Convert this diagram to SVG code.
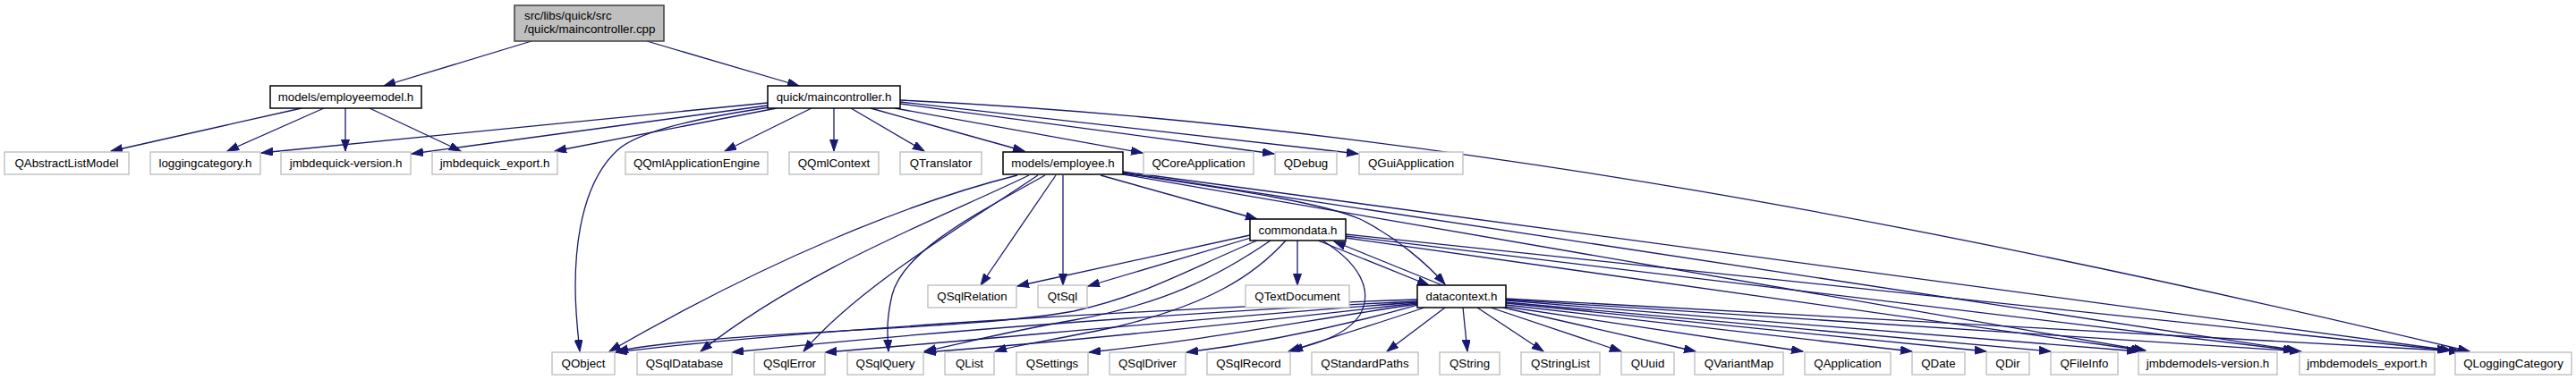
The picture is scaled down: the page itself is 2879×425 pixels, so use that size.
<svg xmlns="http://www.w3.org/2000/svg" width="2879" height="425" viewBox="0 0 2879 425">
<defs>
<style>
text{font-family:"Liberation Sans",Arial,Helvetica,sans-serif;font-size:13.3px;fill:#000;text-anchor:middle}
.ext rect{fill:#fff;stroke:#bfbfbf;stroke-width:1.4}
.int rect{fill:#fff;stroke:#000;stroke-width:1.5}
.root rect{fill:#bfbfbf;stroke:#404040;stroke-width:1.5}
.root text{text-anchor:start}
#edges path{fill:none;stroke:#191970;stroke-width:1.3;marker-end:url(#arr)}
</style>
<marker id="arr" markerWidth="14" markerHeight="10" refX="13" refY="4.5" orient="auto" markerUnits="userSpaceOnUse"><path d="M0,0 L13,4.5 L0,9 z" fill="#191970" stroke="#191970" stroke-width="1"/></marker>
</defs>
<rect width="2879" height="425" fill="#fff"/>
<g id="edges">
<path d="M594,46 L429,96"/>
<path d="M723,46 L893,96"/>
<path d="M337,121 L124,169"/>
<path d="M362,121 L254,169"/>
<path d="M386,121 L386,169"/>
<path d="M413,121 L515,169"/>
<path d="M858,115 L292,171"/>
<path d="M858,118 L460,172"/>
<path d="M868,121 L620,169"/>
<path d="M860,120 C760,135 710,150 690,168 C655,200 643,260 643,320 C643,350 646,375 648,393"/>
<path d="M907,121 L810,169"/>
<path d="M932,121 L932,169"/>
<path d="M951,121 L1033,169"/>
<path d="M973,121 L1145,169"/>
<path d="M1000,121 L1277,171"/>
<path d="M1006,116 L1424,172"/>
<path d="M1006,114 L1518,172"/>
<path d="M1006,112 C1600,140 2200,260 2760,393"/>
<path d="M1137,196 C1020,225 860,290 681,393"/>
<path d="M1150,196 C1060,240 900,300 783,393"/>
<path d="M1160,196 C1080,250 960,320 898,393"/>
<path d="M1168,196 C1090,240 1010,280 997,330 C990,360 992,375 993,393"/>
<path d="M1180,196 L1096,319"/>
<path d="M1188,196 L1188,319"/>
<path d="M1230,196 L1405,245"/>
<path d="M1255,194 C1400,215 1480,228 1520,245 C1560,265 1595,295 1615,318"/>
<path d="M1255,192 L2740,392"/>
<path d="M1255,193 L2568,392"/>
<path d="M1255,195 L2398,392"/>
<path d="M1397,263 L1137,320"/>
<path d="M1398,266 L1216,320"/>
<path d="M1405,269 C1320,305 1280,330 1200,348 C1080,370 800,370 689,393"/>
<path d="M1420,269 C1360,310 1300,340 1200,358 C1120,372 1080,383 1033,393"/>
<path d="M1437,269 C1400,310 1350,340 1250,365 C1180,380 1140,385 1112,393"/>
<path d="M1478,269 C1520,295 1535,325 1520,352 C1505,375 1470,385 1443,392"/>
<path d="M1450,269 L1450,319"/>
<path d="M1473,269 L1597,319"/>
<path d="M1504,262 L2737,392"/>
<path d="M1504,264 L2565,392"/>
<path d="M1504,266 L2395,392"/>
<path d="M1612,319 L1491,270"/>
<path d="M1584,335 C1300,345 900,368 688,394"/>
<path d="M1584,337 C1300,350 1000,375 818,394"/>
<path d="M1584,338 C1350,355 1100,380 922,394"/>
<path d="M1584,339 C1400,360 1200,382 1033,394"/>
<path d="M1584,340 C1450,360 1350,380 1217,394"/>
<path d="M1584,341 C1500,365 1420,382 1326,394"/>
<path d="M1592,344 C1530,365 1480,380 1440,393"/>
<path d="M1615,344 L1550,393"/>
<path d="M1635,344 L1640,393"/>
<path d="M1651,344 L1725,393"/>
<path d="M1666,344 L1812,393"/>
<path d="M1680,344 L1895,393"/>
<path d="M1683,343 L2015,393"/>
<path d="M1683,341 L2137,393"/>
<path d="M1683,339 L2220,393"/>
<path d="M1683,338 L2292,393"/>
<path d="M1683,336 L2390,393"/>
<path d="M1683,335 L2572,393"/>
<path d="M1683,334 L2750,393"/>
</g>
<g id="n_root" class="root"><rect x="575" y="6" width="167" height="40"/><text x="586" y="21.5">src/libs/quick/src</text><text x="586" y="36.5">/quick/maincontroller.cpp</text></g>
<g id="n_employeemodel" class="int"><rect x="302" y="96" width="169" height="25"/><text x="386.5" y="113">models/employeemodel.h</text></g>
<g id="n_maincontroller_h" class="int"><rect x="858" y="96" width="148" height="25"/><text x="932" y="113">quick/maincontroller.h</text></g>
<g id="n_QAbstractListModel" class="ext"><rect x="5" y="170" width="139" height="25"/><text x="74.5" y="187">QAbstractListModel</text></g>
<g id="n_loggingcategory" class="ext"><rect x="168" y="170" width="123" height="25"/><text x="229.5" y="187">loggingcategory.h</text></g>
<g id="n_jmbdequick_version" class="ext"><rect x="314" y="170" width="145" height="25"/><text x="386.5" y="187">jmbdequick-version.h</text></g>
<g id="n_jmbdequick_export" class="ext"><rect x="483" y="170" width="140" height="25"/><text x="553" y="187">jmbdequick_export.h</text></g>
<g id="n_QQmlApplicationEngine" class="ext"><rect x="699" y="170" width="159" height="25"/><text x="778.5" y="187">QQmlApplicationEngine</text></g>
<g id="n_QQmlContext" class="ext"><rect x="882" y="170" width="100" height="25"/><text x="932" y="187">QQmlContext</text></g>
<g id="n_QTranslator" class="ext"><rect x="1006" y="170" width="91" height="25"/><text x="1051.5" y="187">QTranslator</text></g>
<g id="n_employee_h" class="int"><rect x="1121" y="170" width="134" height="25"/><text x="1188" y="187">models/employee.h</text></g>
<g id="n_QCoreApplication" class="ext"><rect x="1278" y="170" width="123" height="25"/><text x="1339.5" y="187">QCoreApplication</text></g>
<g id="n_QDebug" class="ext"><rect x="1425" y="170" width="69" height="25"/><text x="1459.5" y="187">QDebug</text></g>
<g id="n_QGuiApplication" class="ext"><rect x="1519" y="170" width="116" height="25"/><text x="1577" y="187">QGuiApplication</text></g>
<g id="n_commondata" class="int"><rect x="1397" y="245" width="107" height="24"/><text x="1450.5" y="262">commondata.h</text></g>
<g id="n_QSqlRelation" class="ext"><rect x="1037" y="319" width="99" height="25"/><text x="1086.5" y="336">QSqlRelation</text></g>
<g id="n_QtSql" class="ext"><rect x="1160" y="319" width="55" height="25"/><text x="1187.5" y="336">QtSql</text></g>
<g id="n_QTextDocument" class="ext"><rect x="1392" y="319" width="116" height="25"/><text x="1450" y="336">QTextDocument</text></g>
<g id="n_datacontext" class="int"><rect x="1584" y="319" width="99" height="25"/><text x="1633.5" y="336">datacontext.h</text></g>
<g id="n_QObject" class="ext"><rect x="617" y="394" width="70" height="25"/><text x="652" y="411">QObject</text></g>
<g id="n_QSqlDatabase" class="ext"><rect x="712" y="394" width="106" height="25"/><text x="765" y="411">QSqlDatabase</text></g>
<g id="n_QSqlError" class="ext"><rect x="843" y="394" width="79" height="25"/><text x="882.5" y="411">QSqlError</text></g>
<g id="n_QSqlQuery" class="ext"><rect x="947" y="394" width="85" height="25"/><text x="989.5" y="411">QSqlQuery</text></g>
<g id="n_QList" class="ext"><rect x="1056" y="394" width="55" height="25"/><text x="1083.5" y="411">QList</text></g>
<g id="n_QSettings" class="ext"><rect x="1136" y="394" width="80" height="25"/><text x="1176" y="411">QSettings</text></g>
<g id="n_QSqlDriver" class="ext"><rect x="1240" y="394" width="85" height="25"/><text x="1282.5" y="411">QSqlDriver</text></g>
<g id="n_QSqlRecord" class="ext"><rect x="1349" y="394" width="93" height="25"/><text x="1395.5" y="411">QSqlRecord</text></g>
<g id="n_QStandardPaths" class="ext"><rect x="1466" y="394" width="119" height="25"/><text x="1525.5" y="411">QStandardPaths</text></g>
<g id="n_QString" class="ext"><rect x="1609" y="394" width="67" height="25"/><text x="1642.5" y="411">QString</text></g>
<g id="n_QStringList" class="ext"><rect x="1700" y="394" width="88" height="25"/><text x="1744" y="411">QStringList</text></g>
<g id="n_QUuid" class="ext"><rect x="1812" y="394" width="59" height="25"/><text x="1841.5" y="411">QUuid</text></g>
<g id="n_QVariantMap" class="ext"><rect x="1894" y="394" width="99" height="25"/><text x="1943.5" y="411">QVariantMap</text></g>
<g id="n_QApplication" class="ext"><rect x="2017" y="394" width="96" height="25"/><text x="2065" y="411">QApplication</text></g>
<g id="n_QDate" class="ext"><rect x="2137" y="394" width="59" height="25"/><text x="2166.5" y="411">QDate</text></g>
<g id="n_QDir" class="ext"><rect x="2220" y="394" width="48" height="25"/><text x="2244" y="411">QDir</text></g>
<g id="n_QFileInfo" class="ext"><rect x="2292" y="394" width="75" height="25"/><text x="2329.5" y="411">QFileInfo</text></g>
<g id="n_jmbdemodels_version" class="ext"><rect x="2390" y="394" width="155" height="25"/><text x="2467.5" y="411">jmbdemodels-version.h</text></g>
<g id="n_jmbdemodels_export" class="ext"><rect x="2570" y="394" width="151" height="25"/><text x="2645.5" y="411">jmbdemodels_export.h</text></g>
<g id="n_QLoggingCategory" class="ext"><rect x="2744" y="394" width="130" height="25"/><text x="2809" y="411">QLoggingCategory</text></g>
</svg>
